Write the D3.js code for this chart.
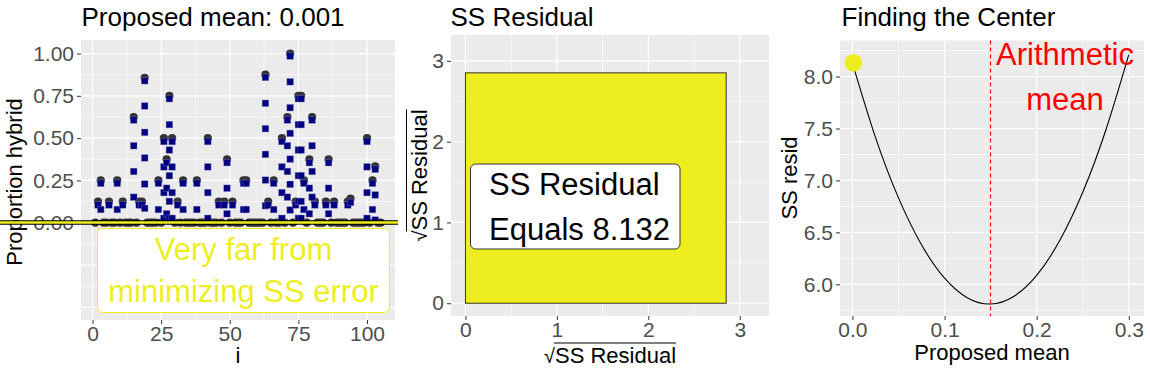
<!DOCTYPE html>
<html>
<head>
<meta charset="utf-8">
<script src="https://cdn.jsdelivr.net/npm/d3@7"></script>
<style>
  body { margin: 0; background: #fff; }
  svg { display: block; font-family: "Liberation Sans", Arial, sans-serif; }
  .axis-title { fill: #000; font-size: 22px; }
  .plot-title { fill: #000; font-size: 26px; }
  .big-label { font-size: 31px; }
</style>
</head>
<body>
<svg width="1150" height="375"></svg>
<script>
// ---- data ----

// left panel: rows with a non zero proportion (every other row sits at 0)
const rowCount = 105
const hybridIndex = [2, 3, 6, 9, 11, 15, 17, 18, 19, 24, 26, 27, 28, 29, 31, 33, 38, 42, 46, 48, 49, 51, 55, 56,
  63, 64, 66, 69, 71, 72, 74, 75, 76, 77, 79, 80, 81, 85, 86, 88, 93, 94, 100, 102, 103]
const hybridProp = [0.125, 0.25, 0.125, 0.25, 0.125, 0.625, 0.125, 0.125, 0.857, 0.25, 0.5, 0.375, 0.75, 0.5, 0.125, 0.25, 0.25, 0.5, 0.125, 0.125, 0.375, 0.125, 0.25, 0.25,
  0.875, 0.125, 0.25, 0.5, 0.625, 1.0, 0.125, 0.75, 0.75, 0.25, 0.375, 0.625, 0.125, 0.125, 0.375, 0.125, 0.125, 0.143, 0.5, 0.25, 0.333]

// blue square trail under each point, by the point's proportion
const trailLevels = [0.125, 0.143, 0.25, 0.333, 0.375, 0.5, 0.625, 0.75, 0.857, 0.875, 1.0]
const trailValues = [
  [0.105],
  [0.12],
  [0.233, 0.078],
  [0.316, 0.164, 0.016],
  [0.355, 0.204, 0.053],
  [0.48, 0.33, 0.178, 0.026],
  [0.607, 0.455, 0.303, 0.151],
  [0.733, 0.58, 0.43, 0.278, 0.126, 0.026],
  [0.839, 0.69, 0.534, 0.383, 0.229, 0.085],
  [0.859, 0.706, 0.556, 0.404, 0.252, 0.1],
  [0.985, 0.833, 0.68, 0.528, 0.376, 0.227, 0.075]
]
const proposedMean = 0.001

// middle panel
const ssResidual = 8.132

// right panel: SS resid curve
const meanGrid = [0, 0.025, 0.05, 0.075, 0.1, 0.125, 0.15, 0.175, 0.2, 0.225, 0.25, 0.275, 0.3]
const ssCurve = [8.13, 7.415, 6.832, 6.38, 6.059, 5.869, 5.81, 5.883, 6.086, 6.421, 6.886, 7.483, 8.211]
const arithmeticMean = 0.149

// tick labels
const leftYTicks = [0, 0.25, 0.5, 0.75, 1]
const leftYGrid = [-0.5, -0.25, 0, 0.25, 0.5, 0.75, 1]
const leftXTicks = [0, 25, 50, 75, 100]
const midTicks = [0, 1, 2, 3]
const rightYTicks = [6.0, 6.5, 7.0, 7.5, 8.0]
const rightXTicks = [0, 0.1, 0.2, 0.3]

const FONT = '"Liberation Sans", Arial, sans-serif'
const YELLOW = "#eeee1f"

const svg = d3.select("svg")

// grey panel + white grid, major ticks given, minor lines halfway between
const drawPanel = (x, y, xMajor, yMajor) => {
  const [x0, x1] = x.range()
  const [y0, y1] = y.range()
  const g = svg.append("g")
  g.append("rect")
    .attr("x", x0).attr("y", y1)
    .attr("width", x1 - x0).attr("height", y0 - y1)
    .attr("fill", "#ebebeb")

  const half = (arr, scale) => {
    const step = arr[1] - arr[0]
    const out = []
    const [d0, d1] = scale.domain()
    for (let v = arr[0] - step / 2; v <= d1; v += step) if (v >= d0) out.push(v)
    return out
  }
  half(xMajor, x).forEach(v => g.append("line").attr("x1", x(v)).attr("x2", x(v)).attr("y1", y1).attr("y2", y0).attr("stroke", "#fff").attr("stroke-width", 0.6))
  half(yMajor, y).forEach(v => g.append("line").attr("y1", y(v)).attr("y2", y(v)).attr("x1", x0).attr("x2", x1).attr("stroke", "#fff").attr("stroke-width", 0.6))
  xMajor.forEach(v => g.append("line").attr("x1", x(v)).attr("x2", x(v)).attr("y1", y1).attr("y2", y0).attr("stroke", "#fff").attr("stroke-width", 1.2))
  yMajor.forEach(v => g.append("line").attr("y1", y(v)).attr("y2", y(v)).attr("x1", x0).attr("x2", x1).attr("stroke", "#fff").attr("stroke-width", 1.2))
}

// axes: no domain line, grey labels
const styleAxis = (g) => {
  g.attr("font-family", FONT).attr("font-size", 21)
  g.select(".domain").remove()
  g.selectAll(".tick line").attr("stroke", "#333")
  g.selectAll(".tick text").attr("fill", "#4d4d4d")
}

const drawAxes = (x, y, xTicks, yTicks, xFmt, yFmt) => {
  svg.append("g")
    .attr("transform", `translate(${x.range()[0]},0)`)
    .call(d3.axisLeft(y).tickValues(yTicks).tickFormat(yFmt).tickSize(4).tickPadding(3))
    .call(styleAxis)
  svg.append("g")
    .attr("transform", `translate(0,${y.range()[0]})`)
    .call(d3.axisBottom(x).tickValues(xTicks).tickFormat(xFmt).tickSize(4).tickPadding(2))
    .call(styleAxis)
}

const title = (x, text) => {
  svg.append("text").attr("class", "plot-title").attr("x", x).attr("y", 26).text(text)
}

const yTitle = (x, cy, text) => {
  svg.append("text")
    .attr("class", "axis-title")
    .attr("transform", `translate(${x},${cy}) rotate(-90)`)
    .attr("text-anchor", "middle")
    .text(text)
}

const xTitle = (xScale, y, text) => {
  const [a, b] = xScale.range()
  svg.append("text")
    .attr("class", "axis-title")
    .attr("x", (a + b) / 2)
    .attr("y", y)
    .attr("text-anchor", "middle")
    .text(text)
}

// "sqrt(SS Residual)" title with the bar over it
const sqrtTitle = (x, y, angle) => {
  const g = svg.append("g").attr("transform", `translate(${x},${y}) rotate(${angle})`)
  const rad = g.append("text").attr("class", "axis-title").style("font-size", "20px").text("√")
  const main = g.append("text").attr("class", "axis-title").text("SS Residual")
  const rw = rad.node().getComputedTextLength()
  const mw = main.node().getComputedTextLength()
  const start = -(rw + mw) / 2
  rad.attr("x", start)
  main.attr("x", start + rw)
  g.append("line")
    .attr("x1", start + rw - 1).attr("x2", start + rw + mw)
    .attr("y1", -20).attr("y2", -20)
    .attr("stroke", "#000").attr("stroke-width", 1)
}

// rounded label box with lines of text
const labelBox = (box, lines, opts) => {
  svg.append("rect")
    .attr("x", box[0]).attr("y", box[1])
    .attr("width", box[2]).attr("height", box[3])
    .attr("rx", 5)
    .attr("fill", "#fff")
    .attr("stroke", opts.border)
    .attr("stroke-width", 1)
  lines.forEach((t, i) => {
    svg.append("text")
      .attr("class", "big-label")
      .attr("x", opts.x)
      .attr("y", opts.y + i * opts.gap)
      .attr("text-anchor", opts.anchor)
      .attr("fill", opts.color)
      .text(t)
  })
}

// ================= left panel =================
const xLeft = d3.scaleLinear().domain([-4.2, 110.2]).range([81, 395])
const yLeft = d3.scaleLinear().domain([-0.575, 1.08]).range([320, 40])

drawPanel(xLeft, yLeft, leftXTicks, leftYGrid)
drawAxes(xLeft, yLeft, leftXTicks, leftYTicks, d3.format("d"), d3.format(".2f"))
title(81.5, "Proposed mean: 0.001")
yTitle(21.5, 182, "Proportion hybrid")
xTitle(xLeft, 363, "i")

const points = d3.range(1, rowCount + 1).map(i => {
  const k = hybridIndex.indexOf(i)
  return { i: i, p: k < 0 ? 0 : hybridProp[k] }
})

const squares = []
points.forEach(d => {
  const k = trailLevels.indexOf(d.p)
  if (k >= 0) trailValues[k].forEach(v => squares.push({ i: d.i, v: v }))
})

svg.append("g")
  .selectAll("circle")
  .data(points)
  .enter()
  .append("circle")
  .attr("cx", d => xLeft(d.i))
  .attr("cy", d => yLeft(d.p))
  .attr("r", 4.1)
  .attr("fill", "#333")

svg.append("g")
  .selectAll("rect")
  .data(squares)
  .enter()
  .append("rect")
  .attr("x", d => xLeft(d.i) - 3.3)
  .attr("y", d => yLeft(d.v) - 3.3)
  .attr("width", 6.6)
  .attr("height", 6.6)
  .attr("fill", "#000080")
  .attr("stroke", "#8888c8")
  .attr("stroke-width", 0.6)
  .attr("stroke-opacity", 0.6)

// proposed mean line (runs across the axis too)
svg.append("line")
  .attr("x1", 0).attr("x2", 398)
  .attr("y1", yLeft(proposedMean)).attr("y2", yLeft(proposedMean))
  .attr("stroke", "#000").attr("stroke-width", 4.5)
svg.append("line")
  .attr("x1", 0).attr("x2", 398)
  .attr("y1", yLeft(proposedMean)).attr("y2", yLeft(proposedMean))
  .attr("stroke", YELLOW).attr("stroke-width", 2.4)

labelBox([97.5, 228.5, 292, 84], ["Very far from", "minimizing SS error"],
  { x: 243.5, y: 260, gap: 41.7, anchor: "middle", color: YELLOW, border: YELLOW })

// ================= middle panel =================
const xMid = d3.scaleLinear().domain([-0.158, 3.32]).range([451, 769])
const yMid = d3.scaleLinear().domain([-0.158, 3.32]).range([316, 35])

drawPanel(xMid, yMid, midTicks, midTicks)
drawAxes(xMid, yMid, midTicks, midTicks, d3.format("d"), d3.format("d"))
title(450.5, "SS Residual")

const side = Math.sqrt(ssResidual)
svg.append("rect")
  .attr("x", xMid(0)).attr("y", yMid(side))
  .attr("width", xMid(side) - xMid(0))
  .attr("height", yMid(0) - yMid(side))
  .attr("fill", YELLOW)
  .attr("stroke", "#333")
  .attr("stroke-width", 1)

labelBox([470.5, 164, 209.5, 85], ["SS Residual", "Equals " + ssResidual.toFixed(3)],
  { x: 489, y: 195, gap: 45, anchor: "start", color: "#000", border: "#333" })

sqrtTitle(610, 363, 0)
sqrtTitle(426.5, 175.5, -90)

// ================= right panel =================
const xRight = d3.scaleLinear().domain([-0.0135, 0.3165]).range([840, 1144])
const yRight = d3.scaleLinear().domain([5.695, 8.347]).range([316, 40.5])

drawPanel(xRight, yRight, rightXTicks, rightYTicks)
drawAxes(xRight, yRight, rightXTicks, rightYTicks, d3.format(".1f"), d3.format(".1f"))
title(841.5, "Finding the Center")
yTitle(796.5, 178, "SS resid")
xTitle(xRight, 360, "Proposed mean")

const curve = d3.line()
  .x((d, i) => xRight(meanGrid[i]))
  .y(d => yRight(d))
  .curve(d3.curveNatural)

svg.append("path")
  .datum(ssCurve)
  .attr("d", curve)
  .attr("fill", "none")
  .attr("stroke", "#000")
  .attr("stroke-width", 1.1)

const meanX = Math.round(xRight(arithmeticMean)) + 0.5
svg.append("line")
  .attr("x1", meanX).attr("x2", meanX)
  .attr("y1", yRight.range()[1]).attr("y2", yRight.range()[0])
  .attr("stroke", "#ff0000")
  .attr("stroke-width", 1.2)
  .attr("stroke-dasharray", "4,3")

svg.append("circle")
  .attr("cx", xRight(proposedMean))
  .attr("cy", yRight(ssResidual))
  .attr("r", 8.8)
  .attr("fill", YELLOW)

;["Arithmetic", "mean"].forEach((t, i) => {
  svg.append("text")
    .attr("class", "big-label")
    .attr("x", 1065)
    .attr("y", 65 + i * 45)
    .attr("text-anchor", "middle")
    .attr("fill", "#ff0000")
    .text(t)
})
</script>
</body>
</html>
